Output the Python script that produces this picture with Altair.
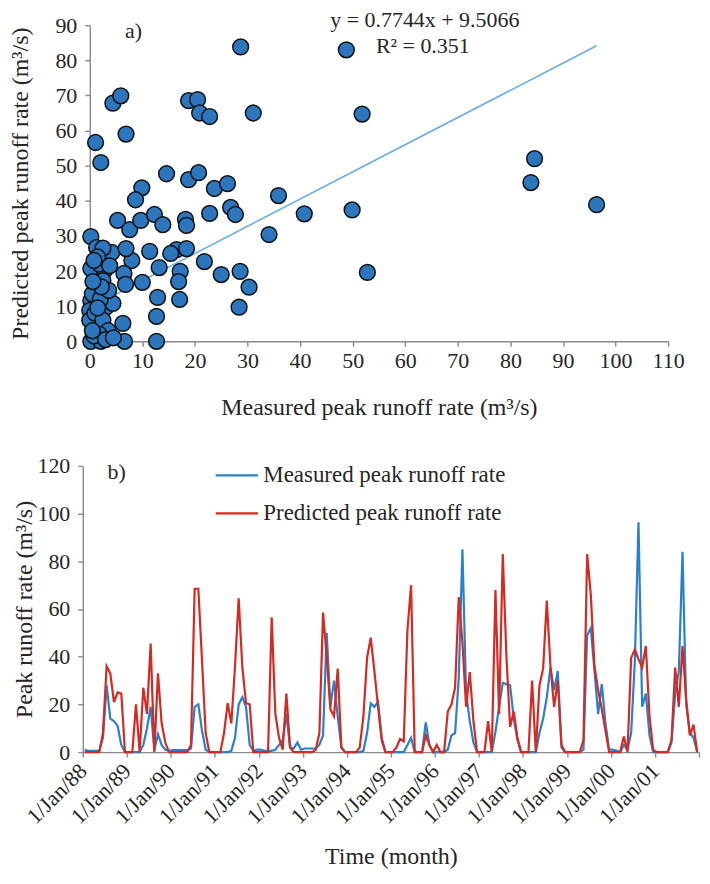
import json
import altair as alt
import pandas as pd

FONT = "Liberation Serif"
BLUE_PT = "#2b76bd"
TREND = "#6aaee0"
BLUE_LN = "#2a80cc"
RED_LN = "#d42a22"
AXIS_GRAY = "#8a8a8a"
TEXT = "#262626"

# ---------------- panel a) scatter ----------------
MEASURED_SC = [28.7, 1.1, 2.1, 4.4, 5.9, 6.9, 18.8, 20.5, 20.9, 22.8, 31.1, 14.6, 18.8, 20.7,
               23.7, 26.2, 35.9, 9.9, 8.7, 48.8, 51.8, 84.6, 83.9, 40.8, 49.9, 96.4, 52.8,
               0.2, 1.3, 5.3, 4.2, 7.6, 9.7, 8.0, 6.9, 6.5, 6.8, 10.0, 11.4, 12.3, 13.9, 13.2,
               12.9, 12.7, 12.7, 16.5, 18.4, 15.4, 17.2, 16.9, 17.1, 18.2, 18.4, 22.8, 21.8,
               25.0, 26.8, 27.7, 28.6, 30.3, 28.4, 34.1, 0.2, 2.8, 2.5, 0.2, 3.1, 4.4, 1.2,
               6.3, 6.6, 0.2, 2.1, 0.0, 0.0, 1.5, 0.5, 2.0, 1.0, 2.5, 3.5, 1.8, 0.8, 3.0, 4.5,
               0.5, 1.5, 3.6, 2.2, 0.6, 1.8, 2.5, 1.5, 0.8, 3.8]
PREDICTED_SC = [83.8, 56.6, 50.9, 67.8, 69.9, 59.0, 68.5, 68.8, 65.0, 64.0, 65.0, 47.7, 46.0, 48.0,
                43.5, 44.9, 41.5, 43.7, 40.3, 83.0, 64.7, 52.0, 45.2, 36.3, 37.4, 38.9, 19.6,
                29.8, 26.7, 34.4, 25.3, 31.8, 34.4, 23.0, 26.4, 19.3, 16.2, 16.8, 25.6, 36.1, 33.2, 21.0,
                12.5, 7.1, 0.0, 26.1, 26.4, 25.0, 19.9, 17.0, 11.9, 34.7, 33.0, 36.4, 22.7,
                19.0, 38.1, 36.1, 19.9, 15.4, 9.7, 30.4, 20.7, 20.2, 17.3, 11.6, 9.7, 10.8, 4.0,
                5.1, 0.0, 0.0, 0.0, 8.8, 6.0, 14.0, 13.5, 12.0, 8.0, 6.0, 3.0, 2.0, 1.5, 0.5, 1.0,
                3.0, 9.5, 14.5, 15.5, 17.0, 22.0, 26.5, 24.0, 23.0, 21.5]
SLOPE = 0.7744
INTERCEPT = 9.5066
EQ_LABEL = "y = 0.7744x + 9.5066"
R2_LABEL = "R² = 0.351"

# ---------------- panel b) monthly series, Jan 1988 - Dec 2001 ----------------
MEASURED_TS = [
    1, 0.5, 0.5, 0.5, 0.5, 6, 28, 14, 13, 11, 3, 0,            # 1988
    0, 0, 0, 0, 3, 10, 19, 1, 7.5, 3, 1, 0.5,                  # 1989
    0.8, 0.8, 0.8, 0.8, 0.8, 1.5, 19, 20, 9, 1, 0, 0,          # 1990
    0, 0, 0, 0, 0.5, 6, 20, 23, 19, 3, 0.5, 1,                 # 1991
    1, 0.5, 0.5, 0.5, 1, 3, 5, 16, 2, 1.5, 4, 1,               # 1992
    1.5, 1.5, 1.5, 1.5, 3, 7, 50, 19, 30, 15, 2, 0,            # 1993
    0, 0, 0, 0, 0.5, 8, 20.5, 19, 21, 6, 0, 0,                 # 1994
    0, 0, 0, 0, 3, 6, 0, 0, 0, 12.5, 3, 0,                     # 1995
    0, 0, 0, 1, 7, 8, 31, 85, 25, 13, 4, 0,                    # 1996
    0, 0, 0, 0, 8.5, 19, 29, 28.5, 28, 14, 5, 0,               # 1997
    0, 0, 0, 0, 8, 14, 23, 35.5, 26, 34, 2, 0,                 # 1998
    0, 0, 0, 0, 1, 49, 52, 34, 16, 28.5, 12, 1,                # 1999
    1, 0.5, 0, 3, 1, 8, 38, 96.4, 19, 24.5, 7, 0,              # 2000
    0, 0, 0, 0, 4, 24.5, 34, 84, 20, 8, 6, 0,                  # 2001
]
PREDICTED_TS = [
    0, 0, 0, 0, 0, 8, 36, 33, 21, 25, 24.5, 0,                 # 1988
    0, 0, 20, 0, 27, 16, 45.5, 0, 33, 12, 4, 0,                # 1989
    0, 0, 0, 0, 0, 3, 68.5, 68.5, 38.5, 8, 0, 0,               # 1990
    0, 0, 8, 20.5, 12, 36, 64.5, 35.5, 20.5, 20, 0, 0,         # 1991
    0, 0, 0, 56.5, 16, 6, 1, 24.5, 2, 0, 0, 0,                 # 1992
    0, 0, 0, 1, 8, 58.5, 40, 18, 15, 35, 2, 0,                 # 1993
    0, 0, 0, 2, 15, 39.5, 48, 34, 19, 5, 0, 0,                 # 1994
    0, 2, 5.5, 4.5, 51, 70, 0, 0, 0, 7, 3, 0,                  # 1995
    3, 0, 0, 17, 20, 27, 65, 46, 19, 33.5, 13, 0,              # 1996
    0, 0, 13, 0, 68, 16, 83, 40, 10.5, 17, 6, 0,               # 1997
    0, 0, 30, 0, 28, 35, 63.5, 36, 19, 30, 3, 0,               # 1998
    0, 0, 0, 0, 5, 83, 66, 36, 26, 18, 9, 0,                   # 1999
    0, 0, 0, 6.5, 0, 39.5, 43, 39, 35.5, 44.5, 15, 1,          # 2000
    0, 0, 0, 0, 5, 35.5, 19, 44.5, 22, 7, 11.5, 0,             # 2001
]
SERIES = ["Measured peak runoff rate", "Predicted peak runoff rate"]
YEAR_LABELS = ["1/Jan/88", "1/Jan/89", "1/Jan/90", "1/Jan/91", "1/Jan/92", "1/Jan/93", "1/Jan/94",
               "1/Jan/95", "1/Jan/96", "1/Jan/97", "1/Jan/98", "1/Jan/99", "1/Jan/00", "1/Jan/01"]

# ================= panel a =================
sc_df = pd.DataFrame({"measured": MEASURED_SC, "predicted": PREDICTED_SC})
x0, x1 = min(MEASURED_SC), max(MEASURED_SC)
trend_df = pd.DataFrame({"measured": [x0, x1],
                         "predicted": [SLOPE * x0 + INTERCEPT, SLOPE * x1 + INTERCEPT]})

X_SC = alt.X("measured:Q",
             scale=alt.Scale(domain=[0, 110], range=[7, 587], nice=False, zero=False),
             axis=alt.Axis(values=list(range(0, 111, 10)),
                           title="Measured peak runoff rate (m³/s)",
                           titlePadding=24, labelPadding=4, labelFlush=False,
                           labelFont=FONT, titleFont=FONT))
Y_SC = alt.Y("predicted:Q",
             scale=alt.Scale(domain=[0, 90], nice=False),
             axis=alt.Axis(values=list(range(0, 91, 10)),
                           title="Predicted peak runoff rate (m³/s)",
                           offset=-7, titlePadding=22, labelPadding=8, labelFlush=False,
                           labelFont=FONT, titleFont=FONT))

trend_line = alt.Chart(trend_df).mark_line(color=TREND, strokeWidth=1.6).encode(x=X_SC, y=Y_SC)
points = alt.Chart(sc_df).mark_circle(size=250, color=BLUE_PT, stroke="#111111",
                                      strokeWidth=1.5, opacity=1).encode(x=X_SC, y=Y_SC)

note_df = pd.DataFrame({"t": ["x"]})
def note(text, x, y, size=22):
    return alt.Chart(note_df).mark_text(text=text, font=FONT, fontSize=size, color=TEXT,
                                        align="center", baseline="middle").encode(
        x=alt.value(x), y=alt.value(y))

top = alt.layer(
    trend_line, points,
    note(EQ_LABEL, 343, -5), note(R2_LABEL, 341, 21), note("a)", 51, 6),
).properties(width=587, height=317)

# ================= panel b =================
n = len(MEASURED_TS)
n_ticks = 12 * len(YEAR_LABELS)
ts_df = pd.DataFrame({
    "month": [i + 0.5 for i in range(n)] * 2,
    "rate": MEASURED_TS + PREDICTED_TS,
    "series": [SERIES[0]] * n + [SERIES[1]] * n,
})
label_expr = ("datum.value < %d ? %s[floor(datum.value / 12)] : ''"
              % (n_ticks, json.dumps(YEAR_LABELS)))

X_TS = alt.X("month:Q",
             scale=alt.Scale(domain=[0, n_ticks], nice=False, zero=False),
             axis=alt.Axis(values=list(range(0, n_ticks + 1, 12)), labelExpr=label_expr,
                           labelFontSize=alt.condition("datum.value >= %d" % n_ticks,
                                                       alt.value(0), alt.value(22)),
                           labelAngle=315, labelAlign="right", labelBaseline="middle",
                           labelPadding=10, labelOverlap=False, labelFlush=False,
                           title="Time (month)", titlePadding=17,
                           labelFont=FONT, titleFont=FONT))
Y_TS = alt.Y("rate:Q",
             scale=alt.Scale(domain=[0, 120], nice=False),
             axis=alt.Axis(values=list(range(0, 121, 20)),
                           title="Peak runoff rate (m³/s)", titlePadding=0, labelPadding=8,
                           labelFont=FONT, titleFont=FONT))
COLOR = alt.Color("series:N",
                  scale=alt.Scale(domain=SERIES, range=[BLUE_LN, RED_LN]),
                  legend=alt.Legend(orient="none", legendX=132, legendY=429, title=None,
                                    symbolType="stroke", symbolSize=1800,
                                    symbolStrokeWidth=2.2, labelFont=FONT, labelFontSize=23,
                                    labelColor=TEXT, labelOffset=4, rowPadding=3,
                                    labelLimit=500))

base_ts = alt.Chart(ts_df).mark_line(strokeWidth=2.2).encode(x=X_TS, y=Y_TS, color=COLOR)
line_meas = base_ts.transform_filter(alt.datum.series == SERIES[0])
line_pred = base_ts.transform_filter(alt.datum.series == SERIES[1])

bottom = alt.layer(line_meas, line_pred, note("b)", 34, 6)).properties(width=618, height=287)

chart = alt.vconcat(top, bottom, spacing=36).properties(
    padding={"left": 1, "top": 0, "right": 0, "bottom": 0}
).configure(font=FONT).configure_view(stroke=None).configure_axis(
    labelFont=FONT, labelFontSize=22, labelColor=TEXT,
    titleFont=FONT, titleFontSize=24, titleFontWeight="normal", titleColor=TEXT,
    domainColor=AXIS_GRAY, tickColor=AXIS_GRAY, domainWidth=1.4, tickWidth=1.4,
    tickSize=5, grid=False,
)

chart.save("out.html", embed_options={"renderer": "svg", "actions": False})
